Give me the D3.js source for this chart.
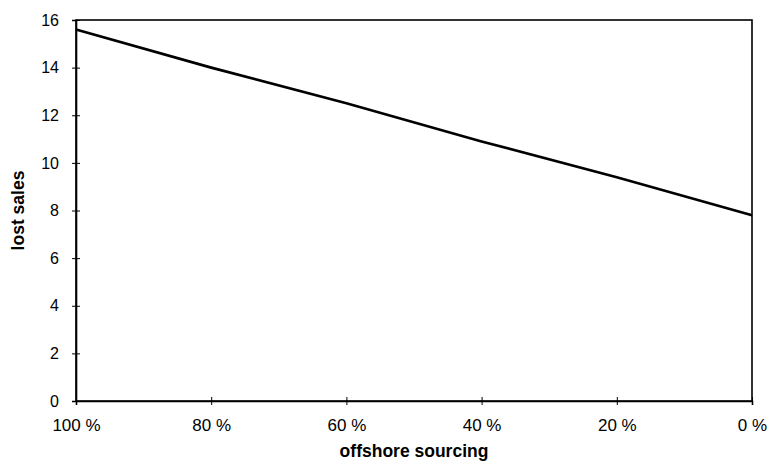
<!DOCTYPE html>
<html>
<head>
<meta charset="utf-8">
<script src="https://cdn.jsdelivr.net/npm/d3@7"></script>
<style>
  html, body { margin: 0; padding: 0; background: #fff; }
  svg { display: block; font-family: "Liberation Sans", Arial, sans-serif; }
</style>
</head>
<body>
<svg id="chart" width="768" height="468"></svg>
<script>
// Share of sourcing done offshore (x) and the resulting lost sales (y)
const offshoreShare = [100, 80, 60, 40, 20, 0];
const lostSales = [15.6, 14.0, 12.5, 10.9, 9.4, 7.8];
const xTickValues = [100, 80, 60, 40, 20, 0];
const yTickValues = [0, 2, 4, 6, 8, 10, 12, 14, 16];

const svg = d3.select("#chart");
const plot = { left: 76, right: 752, top: 20, bottom: 401 };

const x = d3.scaleLinear().domain([100, 0]).range([plot.left, plot.right]);
const y = d3.scaleLinear().domain([0, 16]).range([plot.bottom, plot.top]);

// Frame around the plot area
svg.append("rect")
  .attr("x", plot.left).attr("y", plot.top)
  .attr("width", plot.right - plot.left)
  .attr("height", plot.bottom - plot.top)
  .attr("fill", "none").attr("stroke", "#000").attr("stroke-width", 1.6);

// Y axis: ticks cross the left edge
const yAxis = svg.append("g")
  .attr("transform", `translate(${plot.left},0)`)
  .call(d3.axisLeft(y).tickValues(yTickValues).tickSize(4).tickPadding(13).tickFormat(d3.format("d")));
yAxis.select(".domain").attr("stroke-width", 1.6);
yAxis.selectAll(".tick line").attr("x2", 4).attr("x1", -4);
yAxis.selectAll("text").attr("font-size", 16).attr("fill", "#000");

// X axis: ticks cross the bottom edge
const xAxis = svg.append("g")
  .attr("transform", `translate(0,${plot.bottom})`)
  .call(d3.axisBottom(x).tickValues(xTickValues).tickSize(4).tickPadding(14).tickFormat(d => d + " %"));
xAxis.select(".domain").attr("stroke-width", 1.6);
xAxis.selectAll(".tick line").attr("y1", -4).attr("y2", 4);
xAxis.selectAll("text").attr("font-size", 17).attr("fill", "#000");

// Data line
const line = d3.line().x((d, i) => x(offshoreShare[i])).y(d => y(d));
svg.append("path")
  .datum(lostSales)
  .attr("d", line)
  .attr("fill", "none")
  .attr("stroke", "#000")
  .attr("stroke-width", 2.6);

// Axis titles
svg.append("text")
  .attr("x", (plot.left + plot.right) / 2).attr("y", 457)
  .attr("text-anchor", "middle")
  .attr("font-size", 17.5).attr("font-weight", "bold")
  .text("offshore sourcing");

svg.append("text")
  .attr("transform", `translate(24,${(plot.top + plot.bottom) / 2}) rotate(-90)`)
  .attr("text-anchor", "middle")
  .attr("font-size", 17.5).attr("font-weight", "bold")
  .text("lost sales");
</script>
</body>
</html>
